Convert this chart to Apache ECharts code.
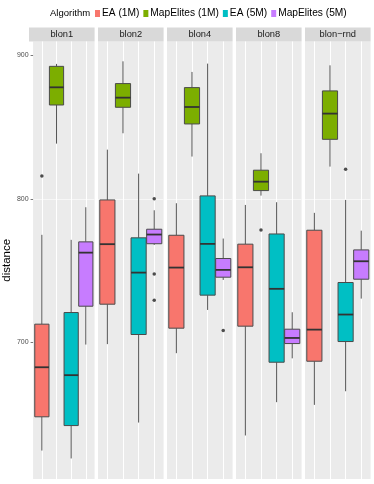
<!DOCTYPE html>
<html>
<head>
<meta charset="utf-8">
<script src="https://cdn.jsdelivr.net/npm/echarts@6/dist/echarts.min.js"></script>
<style>
  html, body { margin: 0; padding: 0; background: #fff; }
  #main { width: 374px; height: 484px; }
</style>
</head>
<body>
<div id="main"></div>
<script>
  const facets = ['blon1', 'blon2', 'blon4', 'blon8', 'blon\u2212rnd'];
  const algorithms = ['EA (1M)', 'MapElites (1M)', 'EA (5M)', 'MapElites (5M)'];

  // per facet: [lower whisker, q1, median, q3, upper whisker]
  const ea1M = [
    [624.8, 648.3, 682.8, 712.8, 775.0],
    [698.9, 726.7, 768.5, 799.3, 834.3],
    [692.6, 710.0, 752.2, 774.7, 797.0],
    [635.3, 711.4, 752.4, 768.5, 795.8],
    [656.6, 687.0, 709.0, 778.2, 790.3]
  ];
  const mapElites1M = [
    [838.5, 865.4, 877.7, 892.3, 894.0],
    [845.7, 863.8, 870.5, 880.3, 895.8],
    [829.5, 852.2, 864.0, 877.5, 888.4],
    [802.3, 805.8, 812.0, 820.0, 831.8],
    [822.5, 841.5, 859.4, 875.2, 893.0]
  ];
  const ea5M = [
    [619.3, 642.2, 677.3, 720.9, 771.5],
    [644.3, 705.6, 748.7, 772.9, 817.6],
    [722.7, 733.0, 768.7, 802.1, 894.2],
    [658.5, 686.3, 737.4, 775.6, 797.7],
    [666.1, 700.7, 719.5, 741.8, 799.3]
  ];
  const mapElites5M = [
    [698.6, 725.3, 762.6, 770.1, 794.2],
    [768.0, 768.8, 775.2, 778.9, 792.1],
    [743.6, 745.5, 750.6, 758.5, 772.4],
    [689.0, 699.3, 703.2, 709.3, 721.1],
    [730.6, 744.1, 756.6, 764.5, 777.9]
  ];
  // [facet index, algorithm index, value]
  const outliers = [
    [0, 0, 816.0],
    [1, 3, 800.2], [1, 3, 747.8], [1, 3, 729.5],
    [2, 3, 708.4],
    [3, 1, 778.4],
    [4, 2, 820.7]
  ];
  const yTicks = [700, 800, 900];

  const stats = [ea1M, mapElites1M, ea5M, mapElites5M];
  const colors = ['#F8766D', '#7CAE00', '#00BFC4', '#C77CFF'];

  const panelLeft = 29, panelStep = 69, panelWidth = 65.6;
  const panelTop = 41.5, panelBottom = 5;
  const stripTop = 27.5, stripHeight = 14;

  function renderBox(params, api) {
    const x = api.value(0);
    const lo = api.coord([x, api.value(1)]);
    const q1 = api.coord([x, api.value(2)]);
    const md = api.coord([x, api.value(3)]);
    const q3 = api.coord([x, api.value(4)]);
    const hi = api.coord([x, api.value(5)]);
    const w = api.size([1, 0])[0] * 0.97;
    const cx = q1[0];
    return {
      type: 'group',
      children: [
        { type: 'line', shape: { x1: cx, y1: lo[1], x2: cx, y2: q1[1] }, style: { stroke: '#555', lineWidth: 1 } },
        { type: 'line', shape: { x1: cx, y1: q3[1], x2: cx, y2: hi[1] }, style: { stroke: '#555', lineWidth: 1 } },
        { type: 'rect', shape: { x: cx - w / 2, y: q3[1], width: w, height: q1[1] - q3[1] },
          style: { fill: api.visual('color'), stroke: '#4a4a4a', lineWidth: 1 } },
        { type: 'line', shape: { x1: cx - w / 2, y1: md[1], x2: cx + w / 2, y2: md[1] }, style: { stroke: '#333', lineWidth: 1.8 } }
      ]
    };
  }

  const grids = [], xAxes = [], yAxes = [], series = [], graphics = [];

  facets.forEach((name, f) => {
    const left = panelLeft + panelStep * f;
    grids.push({
      left: left, width: panelWidth, top: panelTop, bottom: panelBottom,
      show: true, backgroundColor: '#EBEBEB', borderWidth: 0, containLabel: false
    });
    xAxes.push({
      type: 'value', gridIndex: f, min: 0.4, max: 4.6, splitNumber: 4,
      axisLine: { show: false }, axisTick: { show: false }, axisLabel: { show: false },
      splitLine: { show: true, showMinLine: false, showMaxLine: false, lineStyle: { color: '#fff', width: 1 } }
    });
    yAxes.push({
      type: 'value', gridIndex: f, min: 605, max: 909.6,
      name: f === 0 ? 'distance' : '',
      nameLocation: 'middle', nameRotate: 90, nameGap: 14,
      nameTextStyle: { fontSize: 11.5, color: '#000', fontFamily: 'Liberation Sans' },
      axisLine: { show: false },
      axisTick: { show: f === 0, customValues: yTicks, length: 2.5, lineStyle: { color: '#555', width: 0.8 } },
      axisLabel: { show: f === 0, customValues: yTicks, fontSize: 7, color: '#4D4D4D', margin: 4.5, fontFamily: 'Liberation Sans' },
      splitLine: { show: true, showMinLine: false, showMaxLine: false, lineStyle: { color: ['#F7F7F7', '#FFFFFF'], width: 1 } }
    });
    algorithms.forEach((alg, a) => {
      series.push({
        type: 'custom', name: alg, xAxisIndex: f, yAxisIndex: f,
        itemStyle: { color: colors[a] },
        renderItem: renderBox,
        encode: { x: 0, y: [1, 2, 3, 4, 5] },
        data: [[a + 1].concat(stats[a][f])]
      });
    });
    series.push({
      type: 'scatter', name: 'outliers', xAxisIndex: f, yAxisIndex: f,
      symbolSize: 3.5, itemStyle: { color: '#222' }, silent: true,
      data: outliers.filter(o => o[0] === f).map(o => [o[1] + 1, o[2]])
    });
    graphics.push({
      type: 'rect', left: left, top: stripTop,
      shape: { width: panelWidth, height: stripHeight },
      style: { fill: '#D9D9D9' }
    });
    graphics.push({
      type: 'text', x: left + panelWidth / 2, y: stripTop + stripHeight / 2,
      style: { text: name, fill: '#1A1A1A', fontSize: 9.3, fontFamily: 'Liberation Sans', align: 'center', verticalAlign: 'middle' }
    });
  });

  const chart = echarts.init(document.getElementById('main'));
  chart.setOption({
    animation: false,
    title: {
      text: 'Algorithm', left: 50, top: 8.5, padding: 0,
      textStyle: { fontSize: 9.5, fontWeight: 'normal', color: '#000', fontFamily: 'Liberation Sans' }
    },
    legend: {
      data: algorithms, left: 95, top: 8.5, padding: 0,
      icon: 'rect', itemWidth: 5, itemHeight: 7, itemGap: 4,
      textStyle: { fontSize: 10.2, color: '#000', fontFamily: 'Liberation Sans', padding: [0, 0, 0, -3] }
    },
    grid: grids,
    xAxis: xAxes,
    yAxis: yAxes,
    graphic: graphics,
    series: series
  });
</script>
</body>
</html>
